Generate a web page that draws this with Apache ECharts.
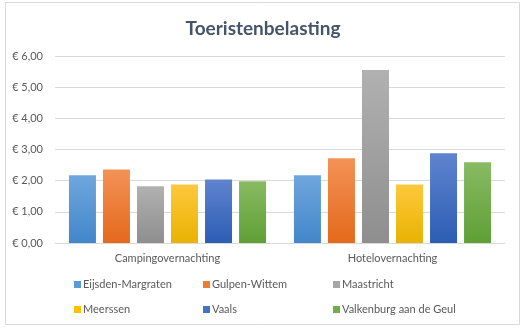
<!DOCTYPE html>
<html>
<head>
<meta charset="utf-8">
<script src="https://cdn.jsdelivr.net/npm/echarts@6/dist/echarts.min.js"></script>
<style>html,body{margin:0;padding:0;background:#fff}#c{width:526px;height:332px}</style>
</head>
<body>
<div id="c"></div>
<script>
const categories = ['Campingovernachting', 'Hotelovernachting'];
const seriesNames = ['Eijsden-Margraten', 'Gulpen-Wittem', 'Maastricht', 'Meerssen', 'Vaals', 'Valkenburg aan de Geul'];
const eijsdenMargraten = [2.17, 2.17];
const gulpenWittem = [2.36, 2.72];
const maastricht = [1.82, 5.55];
const meerssen = [1.88, 1.88];
const vaals = [2.04, 2.88];
const valkenburg = [1.98, 2.59];
const seriesValues = [eijsdenMargraten, gulpenWittem, maastricht, meerssen, vaals, valkenburg];
const yTicks = [0, 1, 2, 3, 4, 5, 6];

const colorStops = [
  ['#6fa6dd', '#4287ca'],
  ['#f39256', '#e4691b'],
  ['#b1b1b1', '#8e8e8e'],
  ['#ffc83e', '#e8b300'],
  ['#5f84cf', '#2c5db4'],
  ['#88bb63', '#5f9f34']
];
const legendColors = ['#5b9bd5', '#ed7d31', '#a5a5a5', '#ffc000', '#4472c4', '#70ad47'];

const chart = echarts.init(document.getElementById('c'), null, {renderer: 'canvas'});
const font = 'Lato';
const series = seriesNames.map((name, i) => ({
  name: name,
  type: 'bar',
  data: seriesValues[i],
  barWidth: 27,
  barGap: '26%',
  itemStyle: {
    color: new echarts.graphic.LinearGradient(0, 0, 0, 1, [
      {offset: 0, color: colorStops[i][0]},
      {offset: 1, color: colorStops[i][1]}
    ])
  }
}));

function legendFor(idx, left) {
  return {
    orient: 'vertical',
    left: left,
    top: 274,
    itemWidth: 7,
    itemHeight: 7,
    itemGap: 14,
    icon: 'rect',
    data: idx.map(i => ({name: seriesNames[i], itemStyle: {color: legendColors[i]}})),
    textStyle: {color: '#595959', fontSize: 11, fontFamily: font, padding: [0, 0, 0, -3]},
    selectedMode: false
  };
}

chart.setOption({
  animation: false,
  backgroundColor: '#fff',
  graphic: [{
    type: 'rect',
    shape: {x: 5.5, y: 2.5, width: 514, height: 322},
    style: {fill: 'none', stroke: '#d9d9d9', lineWidth: 1},
    silent: true,
    z: -10
  }],
  title: {
    text: 'Toeristenbelasting',
    left: 'center',
    top: 14,
    textStyle: {fontFamily: font, fontWeight: 'bold', fontSize: 19, color: '#44546a'}
  },
  legend: [legendFor([0, 3], 69), legendFor([1, 4], 198), legendFor([2, 5], 328)],
  grid: {left: 55, right: 21, top: 56, height: 187, containLabel: false},
  xAxis: {
    type: 'category',
    data: categories,
    axisTick: {show: false},
    axisLine: {lineStyle: {color: '#d9d9d9'}},
    axisLabel: {color: '#595959', fontSize: 11, fontFamily: font, margin: 10}
  },
  yAxis: {
    type: 'value',
    min: yTicks[0],
    max: yTicks[yTicks.length - 1],
    interval: 1,
    axisLine: {show: false},
    axisTick: {show: false},
    splitLine: {lineStyle: {color: '#d9d9d9'}},
    axisLabel: {
      color: '#595959', fontSize: 11, fontFamily: font, margin: 12,
      formatter: v => '€ ' + v.toFixed(2).replace('.', ',')
    }
  },
  series: series
});
</script>
</body>
</html>
